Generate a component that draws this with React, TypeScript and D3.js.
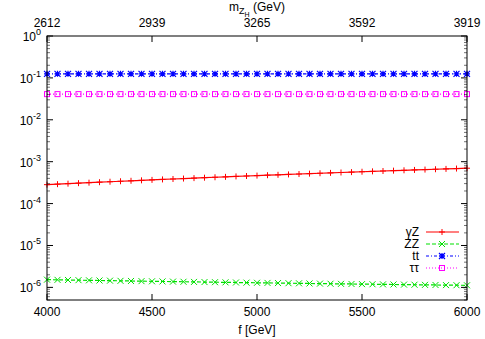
import React from 'react'
import * as d3 from 'd3'

// f grid [GeV], every 50 GeV
const fValues = [
  4000, 4050, 4100, 4150, 4200, 4250, 4300, 4350, 4400, 4450,
  4500, 4550, 4600, 4650, 4700, 4750, 4800, 4850, 4900, 4950,
  5000, 5050, 5100, 5150, 5200, 5250, 5300, 5350, 5400, 5450,
  5500, 5550, 5600, 5650, 5700, 5750, 5800, 5850, 5900, 5950, 6000,
]

// gamma Z (x1e-4)
const gammaZ = [
  2.830, 2.909, 2.990, 3.072, 3.155, 3.240, 3.325, 3.412, 3.500, 3.589,
  3.680, 3.772, 3.865, 3.959, 4.055, 4.152, 4.250, 4.349, 4.450, 4.552,
  4.655, 4.759, 4.865, 4.972, 5.080, 5.190, 5.301, 5.413, 5.526, 5.641,
  5.757, 5.874, 5.993, 6.113, 6.234, 6.357, 6.481, 6.606, 6.733, 6.861, 6.990,
].map((v) => v * 1e-4)

// ZZ (x1e-6)
const zz = [
  1.530, 1.515, 1.501, 1.487, 1.474, 1.460, 1.447, 1.434, 1.422, 1.409,
  1.397, 1.386, 1.374, 1.363, 1.351, 1.340, 1.330, 1.319, 1.309, 1.298,
  1.288, 1.279, 1.269, 1.259, 1.250, 1.241, 1.232, 1.223, 1.214, 1.206,
  1.197, 1.189, 1.181, 1.173, 1.165, 1.157, 1.149, 1.142, 1.134, 1.127, 1.120,
].map((v) => v * 1e-6)

const tt = [
  0.125, 0.125, 0.125, 0.125, 0.125, 0.125, 0.125, 0.125, 0.125, 0.125,
  0.125, 0.125, 0.125, 0.125, 0.125, 0.125, 0.125, 0.125, 0.125, 0.125,
  0.125, 0.125, 0.125, 0.125, 0.125, 0.125, 0.125, 0.125, 0.125, 0.125,
  0.125, 0.125, 0.125, 0.125, 0.125, 0.125, 0.125, 0.125, 0.125, 0.125, 0.125,
]

const tautau = [
  0.041, 0.041, 0.041, 0.041, 0.041, 0.041, 0.041, 0.041, 0.041, 0.041,
  0.041, 0.041, 0.041, 0.041, 0.041, 0.041, 0.041, 0.041, 0.041, 0.041,
  0.041, 0.041, 0.041, 0.041, 0.041, 0.041, 0.041, 0.041, 0.041, 0.041,
  0.041, 0.041, 0.041, 0.041, 0.041, 0.041, 0.041, 0.041, 0.041, 0.041, 0.041,
]

const xTicks = [4000, 4500, 5000, 5500, 6000]
const x2Labels = ['2612', '2939', '3265', '3592', '3919']
const yExponents = [0, -1, -2, -3, -4, -5, -6]

const series = [
  { name: 'γZ', values: gammaZ, color: '#ff0000', dash: undefined, marker: 'plus' },
  { name: 'ZZ', values: zz, color: '#00e000', dash: '4,2', marker: 'cross' },
  { name: 'tt', values: tt, color: '#0000ff', dash: '3,2,1,2', marker: 'star' },
  { name: 'ττ', values: tautau, color: '#ff00ff', dash: '1,2', marker: 'square' },
]

const W = 485
const H = 339
const margin = { top: 36, right: 18, bottom: 39, left: 47 }
const font = 'Liberation Sans, Arial, Helvetica, sans-serif'

const Marker = ({ type, x, y, color }) => {
  const s = 3
  if (type === 'plus') {
    return (
      <path d={`M${x - s},${y}H${x + s}M${x},${y - s}V${y + s}`} stroke={color} strokeWidth={1} />
    )
  }
  if (type === 'cross') {
    return (
      <path
        d={`M${x - s},${y - s}L${x + s},${y + s}M${x - s},${y + s}L${x + s},${y - s}`}
        stroke={color}
        strokeWidth={1}
      />
    )
  }
  if (type === 'star') {
    return (
      <path
        d={`M${x - s},${y}H${x + s}M${x},${y - s}V${y + s}M${x - s},${y - s}L${x + s},${y + s}M${x - s},${y + s}L${x + s},${y - s}`}
        stroke={color}
        strokeWidth={1.2}
      />
    )
  }
  return (
    <rect x={x - 2.5} y={y - 2.5} width={5} height={5} fill="none" stroke={color} strokeWidth={1} />
  )
}

const App = () => {
  const x = d3.scaleLinear().domain([4000, 6000]).range([margin.left, W - margin.right])
  const y = d3.scaleLog().domain([5e-7, 1]).range([H - margin.bottom, margin.top])

  const line = d3
    .line<number>()
    .x((_, i) => x(fValues[i]))
    .y((d) => y(d))

  const minor: number[] = []
  for (let e = -7; e < 0; e++) {
    for (let m = 2; m <= 9; m++) {
      const v = m * Math.pow(10, e)
      if (v >= 5e-7 && v <= 1) minor.push(v)
    }
  }

  const x0 = margin.left
  const x1 = W - margin.right
  const y0 = margin.top
  const y1 = H - margin.bottom

  const legendY = [232, 244, 256, 268]

  return (
    <svg width={W} height={H} style={{ position: 'absolute', left: 0, top: 0, background: '#fff' }}>
      <g fontFamily={font} fontSize={12} fill="#000">
        {/* series */}
        {series.map((s) => (
          <g key={s.name}>
            <path
              d={line(s.values) || ''}
              fill="none"
              stroke={s.color}
              strokeWidth={1.2}
              strokeDasharray={s.dash}
            />
            {s.values.map((v, i) => (
              <Marker key={i} type={s.marker} x={x(fValues[i])} y={y(v)} color={s.color} />
            ))}
          </g>
        ))}

        {/* minor y ticks */}
        {minor.map((v) => (
          <g key={v} stroke="#000" strokeOpacity={0.55} strokeWidth={1}>
            <line x1={x0} x2={x0 + 3} y1={y(v)} y2={y(v)} />
            <line x1={x1} x2={x1 - 3} y1={y(v)} y2={y(v)} />
          </g>
        ))}

        {/* major y ticks + labels */}
        {yExponents.map((e) => {
          const yy = y(Math.pow(10, e))
          return (
            <g key={e}>
              <line x1={x0} x2={x0 + 6} y1={yy} y2={yy} stroke="#000" />
              <line x1={x1} x2={x1 - 6} y1={yy} y2={yy} stroke="#000" />
              <text x={41} y={yy + 5} textAnchor="end">
                10
                <tspan fontSize={9} dy={-6}>
                  {e}
                </tspan>
              </text>
            </g>
          )
        })}

        {/* x ticks bottom and top */}
        {xTicks.map((t, i) => (
          <g key={t}>
            <line x1={x(t)} x2={x(t)} y1={y1} y2={y1 - 6} stroke="#000" />
            <line x1={x(t)} x2={x(t)} y1={y0} y2={y0 + 6} stroke="#000" />
            <text x={x(t)} y={316} textAnchor="middle">
              {t}
            </text>
            <text x={x(t)} y={27} textAnchor="middle">
              {x2Labels[i]}
            </text>
          </g>
        ))}

        {/* frame */}
        <rect x={x0} y={y0} width={x1 - x0} height={y1 - y0} fill="none" stroke="#000" strokeWidth={1} />

        {/* axis titles */}
        <text x={257} y={334} textAnchor="middle">
          f [GeV]
        </text>
        <text x={257} y={11} textAnchor="middle">
          m
          <tspan fontSize={9} dy={3}>
            Z
          </tspan>
          <tspan fontSize={7} dy={3}>
            H
          </tspan>
          <tspan dy={-6}> (GeV)</tspan>
        </text>

        {/* legend */}
        {series.map((s, i) => (
          <g key={s.name}>
            <text x={419} y={legendY[i] + 4} textAnchor="end">
              {s.name}
            </text>
            <line
              x1={426}
              x2={459}
              y1={legendY[i]}
              y2={legendY[i]}
              stroke={s.color}
              strokeWidth={1.2}
              strokeDasharray={s.dash}
            />
            <Marker type={s.marker} x={442} y={legendY[i]} color={s.color} />
          </g>
        ))}
      </g>
    </svg>
  )
}

export default App
